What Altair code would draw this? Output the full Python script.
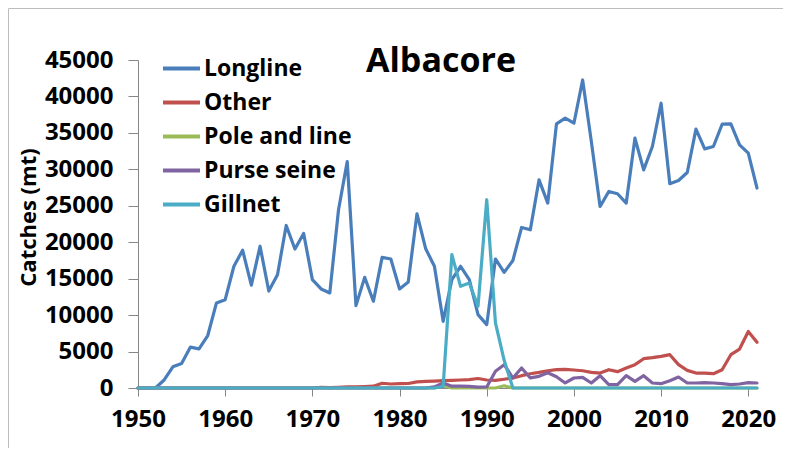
import altair as alt
import pandas as pd

years = list(range(1950, 2022))

longline = [0, 0, 0, 1100, 2900, 3350, 5600, 5370, 7200, 11670,
            12120, 16700, 18900, 14100, 19450, 13300, 15550, 22300, 19070, 21200,
            14870, 13590, 13040, 24450, 31070, 11300, 15180, 11900, 17920, 17700,
            13590, 14550, 23900, 19100, 16700, 9150, 14870, 16700, 14870, 10070,
            8700, 17700, 15870, 17500, 22030, 21700, 28560, 25370, 36240, 37020,
            36330, 42260, 33800, 24900, 26960, 26650, 25370, 34270, 29930, 33130,
            39070, 28020, 28470, 29570, 35510, 32810, 33130, 36190, 36240, 33360,
            32220, 27430]

other = [0, 0, 0, 0, 0, 0, 0, 0, 0, 0,
         0, 0, 0, 0, 0, 0, 0, 0, 0, 0,
         0, 100, 50, 100, 150, 150, 200, 250, 650, 550,
         600, 620, 850, 900, 950, 1000, 1050, 1100, 1150, 1300,
         1100, 1050, 1200, 1370, 1690, 1960, 2150, 2370, 2510, 2560,
         2470, 2370, 2150, 2050, 2510, 2240, 2740, 3200, 4020, 4160,
         4340, 4570, 3200, 2420, 2050, 2050, 1960, 2510, 4570, 5340,
         7760, 6260]

pole_and_line = [0] * 35 + [300] + [0] * 6 + [300] + [0] * 29

purse_seine = [0] * 34 + [150, 700, 250, 250, 230, 130,
               150, 2300, 3200, 1370, 2750, 1380, 1600, 2100, 1550, 690,
               1370, 1460, 685, 1690, 460, 460, 1690, 910, 1690, 685,
               590, 1000, 1510, 685, 685, 730, 685, 590, 460, 550,
               730, 685]

gillnet = [0] * 35 + [200, 18290, 13950, 14410, 11210,
           25830, 8930, 3800] + [0] * 29

series_names = ["Longline", "Other", "Pole and line", "Purse seine", "Gillnet"]
series_colors = ["#4A7EBB", "#C0504D", "#9BBB59", "#8064A2", "#4BACC6"]
series_values = [longline, other, pole_and_line, purse_seine, gillnet]

x_ticks = [1950, 1960, 1970, 1980, 1990, 2000, 2010, 2020]
y_ticks = [0, 5000, 10000, 15000, 20000, 25000, 30000, 35000, 40000, 45000]

rows = []
for name, vals in zip(series_names, series_values):
    for yr, v in zip(years, vals):
        rows.append({"Year": yr, "Catch": v, "Gear": name})
df = pd.DataFrame(rows)

FONT = "Open Sans"

lines = alt.Chart(df).mark_line(strokeWidth=3.2, strokeJoin="round", strokeCap="round").encode(
    x=alt.X("Year:Q",
            scale=alt.Scale(domain=[1950, 2021], nice=False, zero=False),
            axis=alt.Axis(values=x_ticks, format="d", title=None, grid=False,
                          labelFontSize=24, labelFontWeight="bold", labelFont=FONT,
                          labelColor="#000000", labelPadding=11, tickSize=8,
                          labelFlush=False,
                          domainColor="#868686", tickColor="#868686")),
    y=alt.Y("Catch:Q",
            scale=alt.Scale(domain=[0, 45000], nice=False),
            axis=alt.Axis(values=y_ticks, format="d", title="Catches (mt)", grid=False,
                          labelFontSize=24, labelFontWeight="bold", labelFont=FONT,
                          labelColor="#000000", labelPadding=15, tickSize=10,
                          labelFlush=False,
                          domainColor="#868686", tickColor="#868686",
                          titleFontSize=22, titleFontWeight="bold", titleFont=FONT,
                          titleColor="#000000", titleX=-110, titleY=157,
                          titleAngle=270, titleAlign="center", titleBaseline="middle")),
    color=alt.Color("Gear:N",
                    scale=alt.Scale(domain=series_names, range=series_colors),
                    sort=series_names,
                    legend=alt.Legend(title=None, orient="none", legendX=23, legendY=-12,
                                      symbolType="stroke", symbolStrokeWidth=4,
                                      symbolSize=1369, labelFontSize=23,
                                      labelFontWeight="bold", labelFont=FONT,
                                      labelColor="#000000", rowPadding=1,
                                      labelOffset=2)),
)

title_df = pd.DataFrame({"t": ["Albacore"]})
title = alt.Chart(title_df).mark_text(
    fontSize=34, fontWeight="bold", font=FONT, color="#000000",
    align="center", baseline="alphabetic"
).encode(text="t:N", x=alt.value(303), y=alt.value(12))

border_df = pd.DataFrame({"b": [0]})
left_border = alt.Chart(border_df).mark_rule(color="#BDBDBD", strokeWidth=1).encode(
    x=alt.value(-129.5), y=alt.value(-51.5), y2=alt.value(400))
top_border = alt.Chart(border_df).mark_rule(color="#BDBDBD", strokeWidth=1).encode(
    x=alt.value(-129.5), x2=alt.value(660), y=alt.value(-51.5))

chart = alt.layer(lines, title, left_border, top_border).properties(
    width=619, height=328,
    padding={"left": 130, "top": 52, "right": 26, "bottom": 60},
    autosize=alt.AutoSizeParams(type="none"),
).configure_view(strokeWidth=0)

chart.save("out.html", embed_options={"renderer": "svg", "actions": False})
